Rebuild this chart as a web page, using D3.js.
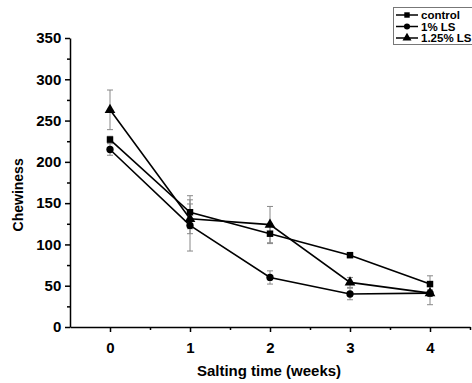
<!DOCTYPE html>
<html lang="en">
<head>
<style>
  body { margin: 0; background: #fff; }
  text { font-family: Arial, "Liberation Sans", sans-serif; font-weight: bold; }
</style>
</head>
<body>
	<script src="https://d3js.org/d3.v7.min.js"></script>
	<script>
		width = 472;
		height = 383;

		const weeks = [0, 1, 2, 3, 4];
		const controlVals = [227, 139, 113, 87, 52];
		const controlErr = [4, 20, 12, 3, 10];
		const ls1Vals = [215, 123, 60, 40, 41];
		const ls1Err = [7, 31, 8, 7, 4];
		const ls125Vals = [263, 131, 124, 54, 41];
		const ls125Err = [24, 18, 22, 6, 14];
		const seriesNames = ["control", "1% LS", "1.25% LS"];
		const yTicks = [0, 50, 100, 150, 200, 250, 300, 350];

		const series = [
			{ name: seriesNames[0], vals: controlVals, err: controlErr, shape: d3.symbolSquare, size: 42 },
			{ name: seriesNames[1], vals: ls1Vals, err: ls1Err, shape: d3.symbolCircle, size: 42 },
			{ name: seriesNames[2], vals: ls125Vals, err: ls125Err, shape: d3.symbolTriangle, size: 50 }
		];

		const x = d3.scaleLinear().domain([-0.5, 4.5]).range([70, 470]);
		const y = d3.scaleLinear().domain([0, 350]).range([327, 38]);

		const svg = d3.select("body")
		  .append("svg")
		  .attr("width", width)
		  .attr("height", height);

		// axes
		const xAxis = svg.append("g")
		  .attr("transform", "translate(0," + y(0) + ")")
		  .call(d3.axisBottom(x).tickValues(weeks).tickFormat(d3.format("d")).tickSize(5).tickSizeOuter(0));
		svg.append("g")
		  .attr("transform", "translate(0," + y(0) + ")")
		  .call(d3.axisBottom(x).tickValues([0.5, 1.5, 2.5, 3.5, 4.5]).tickFormat("").tickSize(3).tickSizeOuter(0))
		  .select(".domain").remove();

		const yAxis = svg.append("g")
		  .attr("transform", "translate(" + x(-0.5) + ",0)")
		  .call(d3.axisLeft(y).tickValues(yTicks).tickSize(5).tickSizeOuter(0));
		svg.append("g")
		  .attr("transform", "translate(" + x(-0.5) + ",0)")
		  .call(d3.axisLeft(y).tickValues(d3.range(25, 350, 50)).tickFormat("").tickSize(3).tickSizeOuter(0))
		  .select(".domain").remove();

		svg.selectAll(".domain, .tick line").attr("stroke", "#000").attr("stroke-width", 1.5);
		xAxis.selectAll(".tick text").attr("font-size", 15).attr("dy", "1.2em");
		yAxis.selectAll(".tick text").attr("font-size", 15).attr("dx", "-0.05em");

		svg.append("text")
		  .attr("x", 269).attr("y", 376)
		  .attr("text-anchor", "middle")
		  .attr("font-size", 15)
		  .text("Salting time (weeks)");
		svg.append("text")
		  .attr("transform", "translate(23," + y(160) + ") rotate(-90)")
		  .attr("text-anchor", "middle")
		  .attr("font-size", 14)
		  .text("Chewiness");

		// error bars
		series.forEach(s => {
			const g = svg.append("g").attr("stroke", "#888").attr("stroke-width", 1);
			weeks.forEach((w, i) => {
				const top = y(s.vals[i] + s.err[i]), bot = y(s.vals[i] - s.err[i]);
				g.append("line").attr("x1", x(w)).attr("x2", x(w)).attr("y1", top).attr("y2", bot);
				g.append("line").attr("x1", x(w) - 3).attr("x2", x(w) + 3).attr("y1", top).attr("y2", top);
				g.append("line").attr("x1", x(w) - 3).attr("x2", x(w) + 3).attr("y1", bot).attr("y2", bot);
			});
		});

		const line = d3.line().x((d, i) => x(weeks[i])).y(d => y(d));

		series.forEach(s => {
			svg.append("path")
			  .attr("d", line(s.vals))
			  .attr("fill", "none")
			  .attr("stroke", "#000")
			  .attr("stroke-width", 1.6);
			svg.selectAll(null)
			  .data(s.vals)
			  .join("path")
			  .attr("transform", (d, i) => "translate(" + x(weeks[i]) + "," + y(d) + ")")
			  .attr("d", d3.symbol().type(s.shape).size(s.size))
			  .attr("fill", "#000");
		});

		// legend
		const leg = svg.append("g");
		leg.append("rect")
		  .attr("x", 393.5).attr("y", 7.5)
		  .attr("width", 90).attr("height", 37)
		  .attr("fill", "#fff").attr("stroke", "#777").attr("stroke-width", 1);
		series.forEach((s, i) => {
			const ly = 15 + i * 11.5;
			leg.append("line").attr("x1", 396).attr("x2", 418).attr("y1", ly).attr("y2", ly)
			  .attr("stroke", "#000").attr("stroke-width", 1.5);
			leg.append("path")
			  .attr("transform", "translate(407," + ly + ")")
			  .attr("d", d3.symbol().type(s.shape).size(s.size * 0.7))
			  .attr("fill", "#000");
			leg.append("text")
			  .attr("x", 421).attr("y", ly + 4)
			  .attr("font-size", 11.5)
			  .text(s.name);
		});
	</script>
</body>
</html>
